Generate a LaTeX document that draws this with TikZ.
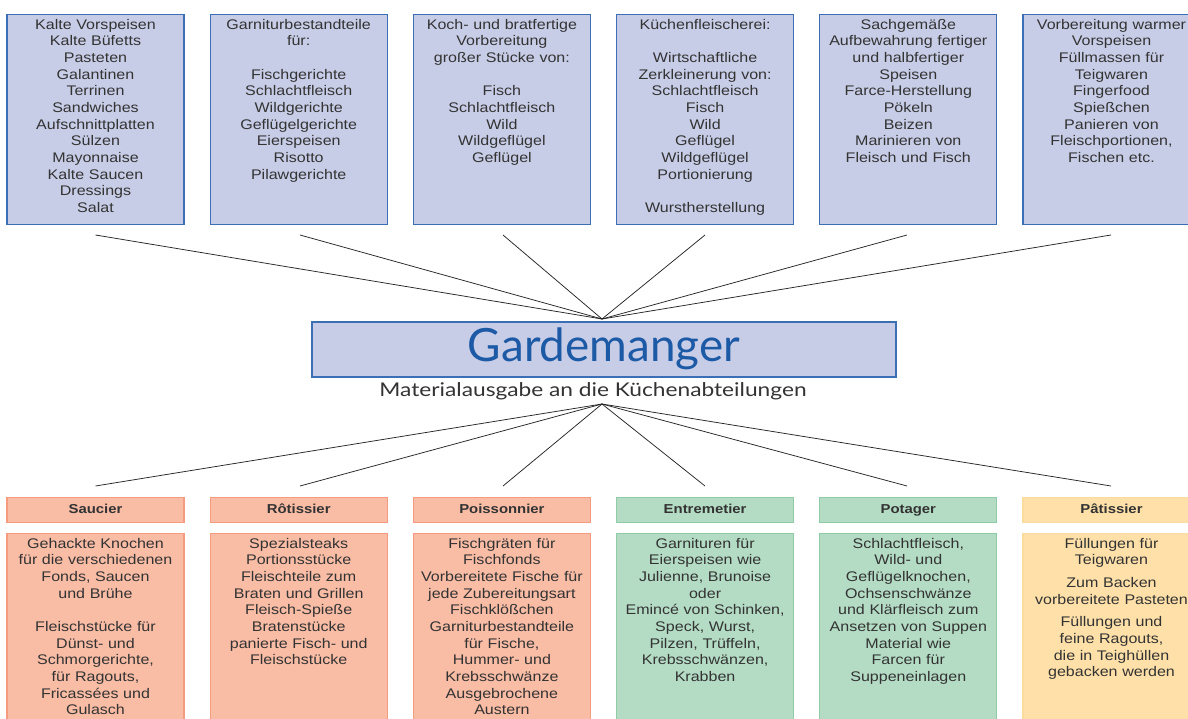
\documentclass[tikz,border=0pt]{standalone}
\usepackage{fontspec}
\setmainfont{Liberation Sans}[FakeStretch=1.15]
\newfontfamily\latofont{Lato}
\newfontfamily\latowide{Lato}[FakeStretch=1.2]
\definecolor{lav}{HTML}{C8CDE7}
\definecolor{bblue}{HTML}{3B6EB4}
\definecolor{gmblue}{HTML}{1D5AA6}
\definecolor{txt}{HTML}{333333}
\definecolor{salfill}{HTML}{F9BCA5}
\definecolor{saldraw}{HTML}{F59C80}
\definecolor{grfill}{HTML}{B4DCC4}
\definecolor{grdraw}{HTML}{8FCCA6}
\definecolor{yefill}{HTML}{FEE0A8}
\definecolor{yedraw}{HTML}{FBDB9E}
\tikzset{
  topbox/.style={draw=bblue, fill=lav, line width=1.2bp, minimum width=177bp, minimum height=210bp, inner sep=0, anchor=north},
  bodytxt/.style={text=txt, font=\fontsize{14}{16.7}\selectfont, align=center, text width=210bp, inner sep=0, anchor=base},
  headbox/.style={line width=1.2bp, minimum width=177bp, minimum height=25bp, inner sep=0, anchor=north, text=txt, font=\bfseries\fontsize{13}{15}\selectfont, text height=9.5bp, text depth=2bp},
  contbox/.style={line width=1.2bp, minimum width=177bp, minimum height=210bp, inner sep=0, anchor=north},
  sal/.style={draw=saldraw, fill=salfill},
  grn/.style={draw=grdraw, fill=grfill},
  yel/.style={draw=yedraw, fill=yefill},
  conn/.style={draw=black!85, line width=0.75bp},
}
\begin{document}
\begin{tikzpicture}[x=1bp,y=-1bp]
\useasboundingbox (0,0) rectangle (1188,719);
\fill[white] (0,0) rectangle (1188,719);
% top boxes
\node[topbox] (t1) at (95.5,14) {};
\node[topbox] (t2) at (298.7,14) {};
\node[topbox] (t3) at (501.9,14) {};
\node[topbox] (t4) at (705.1,14) {};
\node[topbox] (t5) at (908.3,14) {};
\node[topbox] (t6) at (1111.5,14) {};
\node[bodytxt] (t1x) at (95.5,29.3) {Kalte Vorspeisen\\Kalte Büfetts\\Pasteten\\Galantinen\\Terrinen\\Sandwiches\\Aufschnittplatten\\Sülzen\\Mayonnaise\\Kalte Saucen\\Dressings\\Salat};
\node[bodytxt] (t2x) at (298.7,29.3) {Garniturbestandteile\\für:\\[16.7bp]Fischgerichte\\Schlachtfleisch\\Wildgerichte\\Geflügelgerichte\\Eierspeisen\\Risotto\\Pilawgerichte};
\node[bodytxt] (t3x) at (501.9,29.3) {Koch- und bratfertige\\Vorbereitung\\großer Stücke von:\\[16.7bp]Fisch\\Schlachtfleisch\\Wild\\Wildgeflügel\\Geflügel};
\node[bodytxt] (t4x) at (705.1,29.3) {Küchenfleischerei:\\[16.7bp]Wirtschaftliche\\Zerkleinerung von:\\Schlachtfleisch\\Fisch\\Wild\\Geflügel\\Wildgeflügel\\Portionierung\\[16.7bp]Wurstherstellung};
\node[bodytxt] (t5x) at (908.3,29.3) {Sachgemäße\\Aufbewahrung fertiger\\und halbfertiger\\Speisen\\Farce-Herstellung\\Pökeln\\Beizen\\Marinieren von\\Fleisch und Fisch};
\node[bodytxt] (t6x) at (1111.5,29.3) {Vorbereitung warmer\\Vorspeisen\\Füllmassen für\\Teigwaren\\Fingerfood\\Spießchen\\Panieren von\\Fleischportionen,\\Fischen etc.};
% central
\node[draw=bblue, fill=lav, line width=1.2bp, minimum width=584bp, minimum height=55bp, inner sep=0, text=gmblue, font=\latofont\fontsize{46}{50}\selectfont, text height=33bp, text depth=10bp] (gm) at (604,349.5) {Gardemanger};
\node[text=txt, font=\latowide\fontsize{19}{22}\selectfont, inner sep=0, anchor=base] (sub) at (593,396.3) {Materialausgabe an die Küchenabteilungen};
% hubs
\coordinate (hubT) at (602,319);
\coordinate (hubB) at (602,404);
\foreach \i/\x in {1/95.5,2/300,3/503,4/705,5/907,6/1111}{
  \coordinate (a\i) at (\x,235);
  \coordinate (b\i) at (\x,486);
  \draw[conn] (a\i) -- (hubT);
  \draw[conn] (hubB) -- (b\i);
}
% bottom headers
\node[headbox,sal] (h1) at (95.5,497) {Saucier};
\node[headbox,sal] (h2) at (298.7,497) {Rôtissier};
\node[headbox,sal] (h3) at (501.9,497) {Poissonnier};
\node[headbox,grn] (h4) at (705.1,497) {Entremetier};
\node[headbox,grn] (h5) at (908.3,497) {Potager};
\node[headbox,yel] (h6) at (1111.5,497) {Pâtissier};
% bottom content boxes
\node[contbox,sal] (c1) at (95.5,533) {};
\node[contbox,sal] (c2) at (298.7,533) {};
\node[contbox,sal] (c3) at (501.9,533) {};
\node[contbox,grn] (c4) at (705.1,533) {};
\node[contbox,grn] (c5) at (908.3,533) {};
\node[contbox,yel] (c6) at (1111.5,533) {};
\node[bodytxt] (c1x) at (95.5,548.3) {Gehackte Knochen\\für die verschiedenen\\Fonds, Saucen\\und Brühe\\[16.7bp]Fleischstücke für\\Dünst- und\\Schmorgerichte,\\für Ragouts,\\Fricassées und\\Gulasch};
\node[bodytxt] (c2x) at (298.7,548.3) {Spezialsteaks\\Portionsstücke\\Fleischteile zum\\Braten und Grillen\\Fleisch-Spieße\\Bratenstücke\\panierte Fisch- und\\Fleischstücke};
\node[bodytxt] (c3x) at (501.9,548.3) {Fischgräten für\\Fischfonds\\Vorbereitete Fische für\\jede Zubereitungsart\\Fischklößchen\\Garniturbestandteile\\für Fische,\\Hummer- und\\Krebsschwänze\\Ausgebrochene\\Austern};
\node[bodytxt] (c4x) at (705.1,548.3) {Garnituren für\\Eierspeisen wie\\Julienne, Brunoise\\oder\\Emincé von Schinken,\\Speck, Wurst,\\Pilzen, Trüffeln,\\Krebsschwänzen,\\Krabben};
\node[bodytxt] (c5x) at (908.3,548.3) {Schlachtfleisch,\\Wild- und\\Geflügelknochen,\\Ochsenschwänze\\und Klärfleisch zum\\Ansetzen von Suppen\\Material wie\\Farcen für\\Suppeneinlagen};
\node[bodytxt] (c6x) at (1111.5,548.3) {Füllungen für\\Teigwaren\\[6bp]Zum Backen\\vorbereitete Pasteten\\[6bp]Füllungen und\\feine Ragouts,\\die in Teighüllen\\gebacken werden};
\end{tikzpicture}
\end{document}
